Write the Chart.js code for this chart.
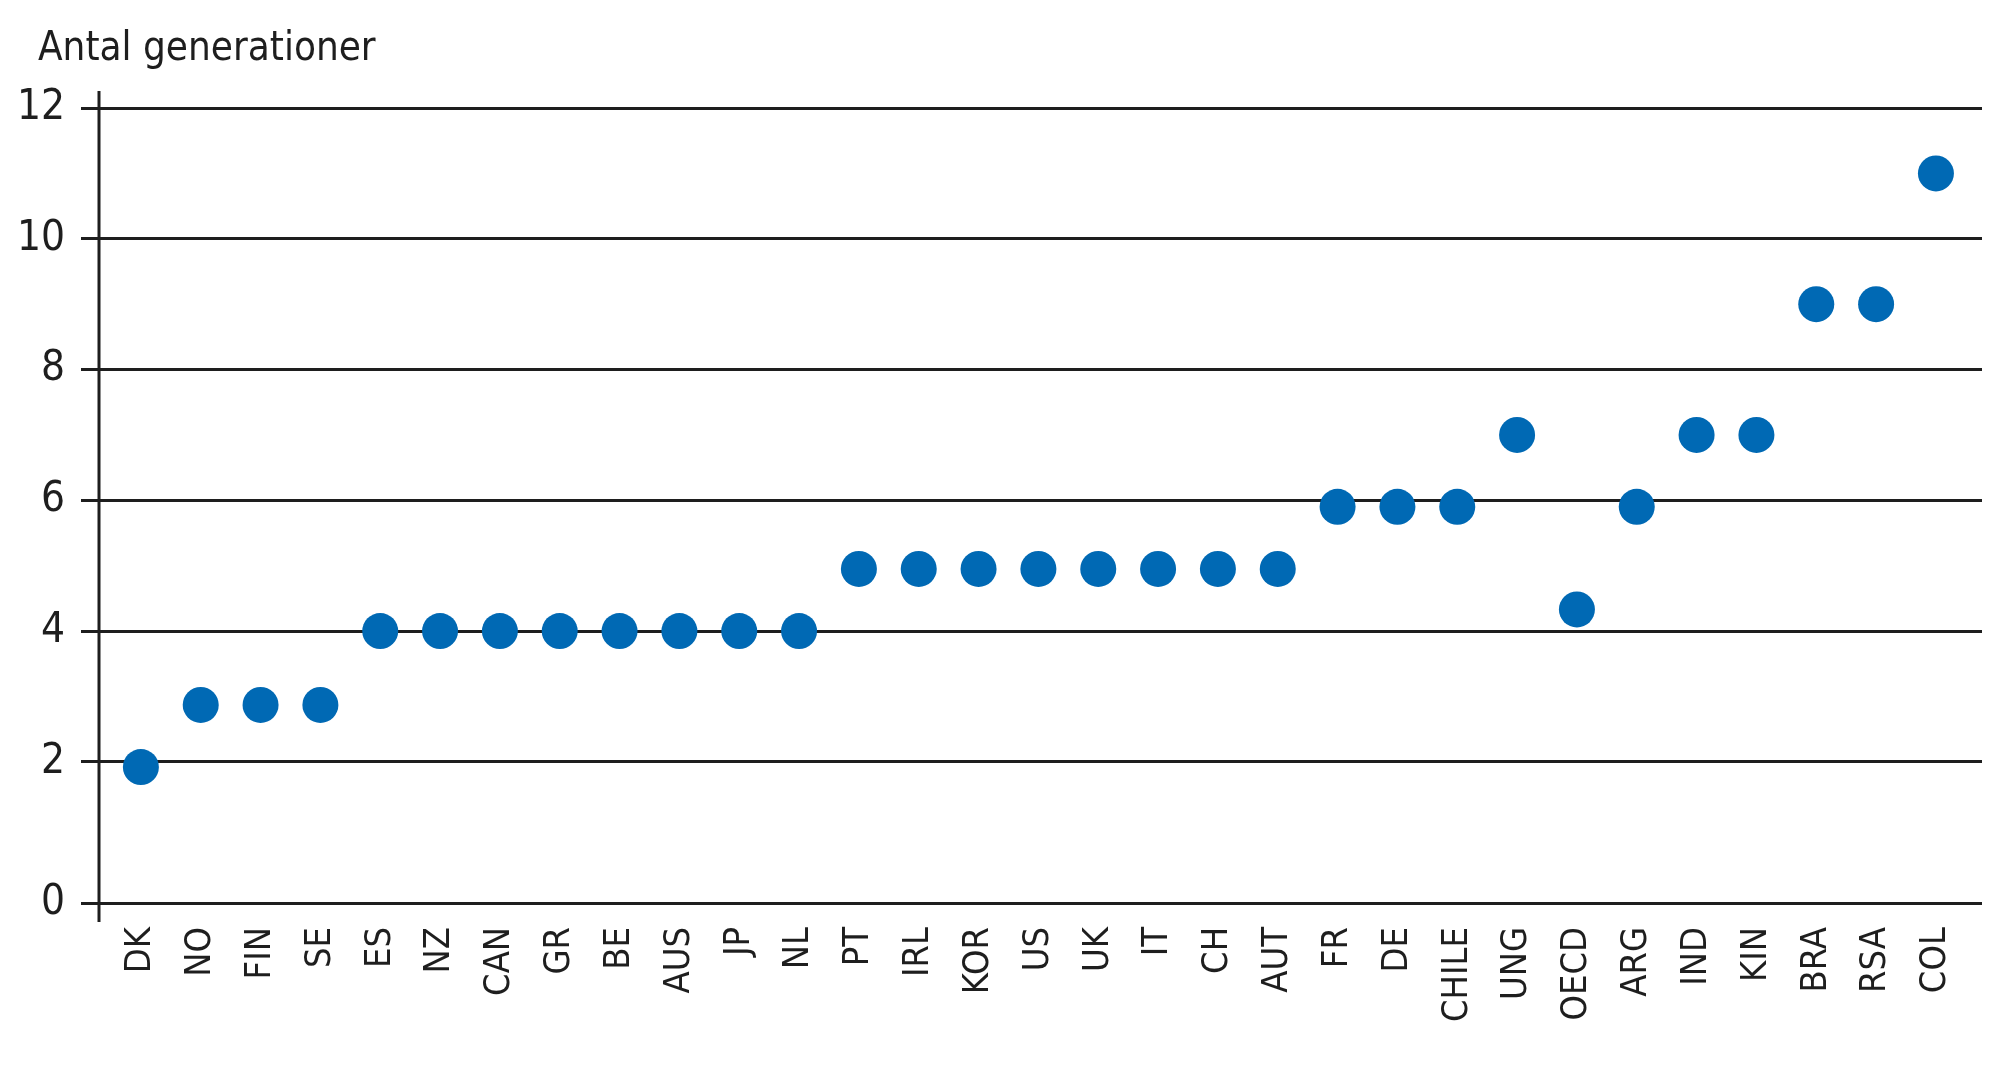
<!DOCTYPE html>
<html>
<head>
<meta charset="utf-8">
<script src="https://cdn.jsdelivr.net/npm/chart.js@4/dist/chart.umd.min.js"></script>
<style>
  html, body { margin: 0; padding: 0; background: #ffffff; overflow: hidden; }
  canvas { display: block; }
</style>
</head>
<body>
<canvas id="chart" width="2000" height="1073"></canvas>
<script>
'use strict';

// data
const countries = ['DK', 'NO', 'FIN', 'SE', 'ES', 'NZ', 'CAN', 'GR', 'BE', 'AUS', 'JP', 'NL',
                   'PT', 'IRL', 'KOR', 'US', 'UK', 'IT', 'CH', 'AUT', 'FR', 'DE', 'CHILE',
                   'UNG', 'OECD', 'ARG', 'IND', 'KIN', 'BRA', 'RSA', 'COL'];
const generations = [1.92, 2.87, 2.87, 2.87, 4, 4, 4, 4, 4, 4, 4, 4,
                     4.95, 4.95, 4.95, 4.95, 4.95, 4.95, 4.95, 4.95, 5.9, 5.9, 5.9,
                     7, 4.33, 5.9, 7, 7, 9, 9, 11];
const yTicks = [0, 2, 4, 6, 8, 10, 12];
const yTitle = 'Antal generationer';

const narrow = '"DejaVu Sans Condensed", "Liberation Sans Narrow", "Liberation Sans", sans-serif';
const ink = '#1e1e1e';
const dotBlue = '#0069b4';

// the original draws its base line a little under the true zero
const baseMin = -0.16;

const points = countries.map((c, i) => ({ x: i, y: generations[i] }));

// title top left + y axis line that sticks out past the first and last grid line
const extras = {
  id: 'extras',
  beforeDatasetsDraw(chart) {
    const ctx = chart.ctx;
    const y = chart.scales.y;
    const left = chart.chartArea.left;
    ctx.save();
    ctx.strokeStyle = ink;
    ctx.lineWidth = 3;
    ctx.beginPath();
    ctx.moveTo(left, y.getPixelForValue(12) - 17);
    ctx.lineTo(left, y.getPixelForValue(y.min) + 19);
    ctx.stroke();
    ctx.restore();
  },
  afterDraw(chart) {
    const ctx = chart.ctx;
    ctx.save();
    ctx.fillStyle = ink;
    ctx.font = '40px ' + narrow;
    ctx.textBaseline = 'alphabetic';
    ctx.textAlign = 'left';
    ctx.fillText(yTitle, 38, 60);
    ctx.restore();
  }
};

const ctx = document.getElementById('chart').getContext('2d');
const chart = new Chart(ctx, {
  type: 'scatter',
  data: {
    datasets: [{
      label: yTitle,
      data: points,
      backgroundColor: dotBlue,
      borderWidth: 0,
      pointRadius: 18,
      pointHoverRadius: 18
    }]
  },
  options: {
    responsive: false,
    animation: false,
    devicePixelRatio: 1,
    layout: { padding: { top: 108, right: 11, bottom: 0, left: 0 } },
    plugins: {
      legend: { display: false },
      tooltip: { enabled: false },
      title: { display: false }
    },
    scales: {
      x: {
        type: 'linear',
        min: -0.7,
        max: 30.77,
        afterBuildTicks: (s) => { s.ticks = countries.map((c, i) => ({ value: i })); },
        afterFit: (s) => { s.height = 170; s.paddingLeft = 0; s.paddingRight = 0; },
        grid: { display: false },
        border: { display: false },
        ticks: {
          autoSkip: false,
          minRotation: 90,
          maxRotation: 90,
          padding: 16,
          color: ink,
          font: { family: narrow, size: 36 },
          callback: (v) => countries[v]
        }
      },
      y: {
        min: baseMin,
        max: 12,
        afterBuildTicks: (s) => { s.ticks = yTicks.map(v => ({ value: v === 0 ? s.min : v })); },
        afterFit: (s) => { s.width = 99; },
        border: { display: false },
        grid: {
          color: ink,
          lineWidth: 3,
          drawTicks: true,
          tickLength: 18,
          tickColor: ink
        },
        ticks: {
          padding: 16,
          color: ink,
          font: { family: narrow, size: 42 },
          callback: (v) => v <= 0 ? '0' : String(v)
        }
      }
    }
  },
  plugins: [extras]
});
</script>
</body>
</html>
